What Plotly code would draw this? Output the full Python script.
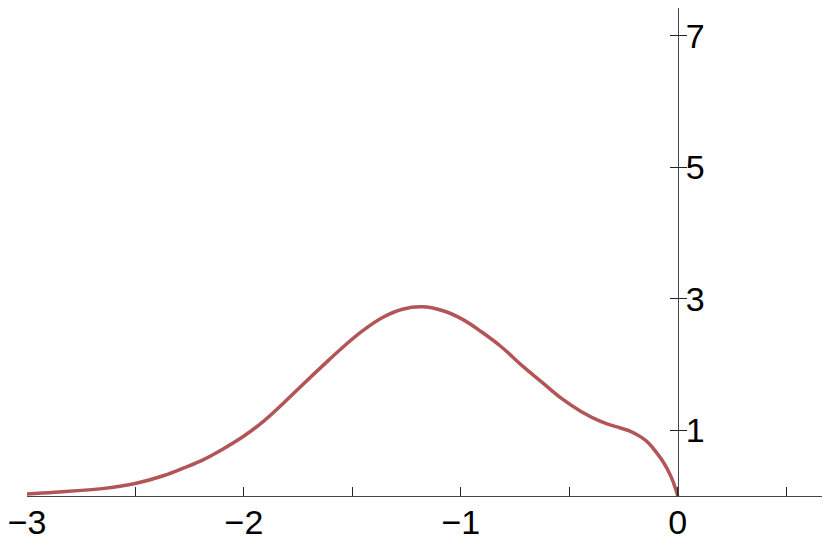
import plotly.graph_objects as go

# punti
x_vals = [-3.000, -2.872, -2.643, -2.501, -2.368, -2.277, -2.186,
          -2.096, -2.005, -1.910, -1.819, -1.727, -1.635, -1.544, -1.452,
          -1.361, -1.269, -1.177, -1.086, -0.994, -0.902, -0.811, -0.719,
          -0.628, -0.536, -0.444, -0.353, -0.261, -0.215, -0.169, -0.137,
          -0.110, -0.064, -0.032, -0.009, 0.0]
y_vals = [0.030, 0.056, 0.116, 0.190, 0.312, 0.427, 0.554,
          0.715, 0.900, 1.135, 1.407, 1.700, 1.986, 2.262, 2.514,
          2.715, 2.840, 2.876, 2.820, 2.689, 2.489, 2.262, 1.986,
          1.735, 1.483, 1.282, 1.131, 1.030, 0.980, 0.895, 0.815,
          0.710, 0.502, 0.302, 0.101, 0.0]

x_ticks = [-3, -2.5, -2, -1.5, -1, -0.5, 0, 0.5]
x_labels = ["\u22123", "", "\u22122", "", "\u22121", "", "0", ""]
y_ticks = [1, 3, 5, 7]
y_labels = ["1", "3", "5", "7"]

x_range = [-3, 0.665]
y_range = [0, 7.42]

fig = go.Figure()

fig.add_trace(go.Scatter(
    x=x_vals, y=y_vals, mode="lines",
    line=dict(color="#B25557", width=3.5, shape="spline", smoothing=1.1),
    showlegend=False, hoverinfo="skip"
))

# traccia vuota per il secondo asse y (tacche dall'altro lato)
fig.add_trace(go.Scatter(x=[None], y=[None], yaxis="y2", showlegend=False))

ypos = (0 - x_range[0]) / (x_range[1] - x_range[0])

fig.update_layout(
    width=814, height=533,
    margin=dict(l=14, r=0, t=0, b=41),
    plot_bgcolor="white", paper_bgcolor="white",
    font=dict(family="Liberation Sans, Arial, sans-serif", size=34, color="black"),
    xaxis=dict(
        range=x_range, showgrid=False, zeroline=False,
        showline=True, linecolor="#444", linewidth=1.3,
        tickvals=x_ticks, ticktext=x_labels,
        ticks="inside", ticklen=9, tickwidth=1.3, tickcolor="#222",
        ticklabelstandoff=-4, ticklabeloverflow="allow",
    ),
    yaxis=dict(
        range=y_range, showgrid=False, zeroline=False,
        anchor="free", position=ypos, side="right",
        showline=True, linecolor="#444", linewidth=1.3,
        tickvals=y_ticks, ticktext=y_labels,
        ticks="inside", ticklen=8, tickwidth=1.3, tickcolor="#222",
    ),
    yaxis2=dict(
        range=y_range, overlaying="y", showgrid=False, zeroline=False,
        anchor="free", position=ypos, side="right",
        showline=False, showticklabels=False,
        tickvals=y_ticks, ticks="outside", ticklen=8, tickwidth=1.3,
        tickcolor="#222",
    ),
)

fig.write_html("out.html")
